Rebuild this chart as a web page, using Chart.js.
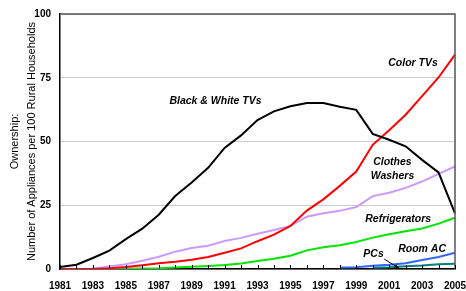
<!DOCTYPE html>
<html>
<head>
<meta charset="utf-8">
<script src="https://cdn.jsdelivr.net/npm/chart.js@4"></script>
<style>
  body { margin: 0; background: #fff; }
  canvas { display: block; }
</style>
</head>
<body>
<canvas id="chart" width="466" height="291"></canvas>
<script>
const years = ['1981','1982','1983','1984','1985','1986','1987','1988','1989','1990','1991','1992','1993',
  '1994','1995','1996','1997','1998','1999','2000','2001','2002','2003','2004','2005'];

const bwTVs = [0.8, 1.7, 4.3, 7.2, 11.7, 15.8, 21.3, 28.6, 33.9, 39.7, 47.5, 52.4, 58.4,
  61.8, 63.8, 65.1, 65.1, 63.6, 62.4, 53.0, 50.7, 48.1, 42.8, 37.9, 21.8];
const colorTVs = [0, 0, 0, 0.3, 0.8, 1.5, 2.3, 2.8, 3.6, 4.7, 6.4, 8.1, 10.9,
  13.5, 16.9, 22.9, 27.3, 32.6, 38.2, 48.7, 54.4, 60.5, 67.8, 75.1, 84.1];
const washers = [0, 0, 0.1, 1.0, 1.9, 3.2, 4.8, 6.8, 8.2, 9.1, 11.0, 12.2, 13.8,
  15.3, 16.9, 20.5, 21.9, 22.8, 24.3, 28.6, 29.9, 31.8, 34.3, 37.3, 40.2];
const fridges = [0, 0, 0, 0, 0.1, 0.2, 0.3, 0.6, 0.9, 1.2, 1.6, 2.2, 3.1,
  4.0, 5.2, 7.3, 8.5, 9.3, 10.6, 12.3, 13.6, 14.8, 15.9, 17.8, 20.1];
const roomAC = [null, null, null, null, null, null, null, null, null, null, null, null, null,
  null, null, null, null, 0.6, 0.7, 1.3, 1.7, 2.3, 3.5, 4.7, 6.4];
const pcs = [null, null, null, null, null, null, null, null, null, null, null, null, null,
  null, null, null, null, null, null, 0.5, 0.7, 1.1, 1.4, 1.9, 2.1];

const yTicks = [0, 25, 50, 75, 100];

// text labels placed in data units (index on the year axis, value)
const notes = [
  { text: 'Black & White TVs', x: 9.45, y: 66 },
  { text: 'Color TVs', x: 21.45, y: 80.7 },
  { text: 'Clothes', x: 20.2, y: 42.1 },
  { text: 'Washers', x: 20.2, y: 36.3 },
  { text: 'Refrigerators', x: 20.55, y: 19.7 },
  { text: 'Room AC', x: 22.0, y: 7.8 },
  { text: 'PCs', x: 19.05, y: 5.9 }
];
const pcArrow = { from: [19.7, 3.9], to: [20.6, 0.3] };

const FONT = 'Arial, "Liberation Sans", sans-serif';

const decor = {
  id: 'decor',
  afterDraw(chart) {
    const ctx = chart.ctx;
    const a = chart.chartArea;
    const xs = chart.scales.x, ys = chart.scales.y;
    ctx.save();
    // frame on top and right
    ctx.strokeStyle = '#555';
    ctx.lineWidth = 1.5;
    ctx.beginPath();
    ctx.moveTo(a.left, a.top);
    ctx.lineTo(a.right, a.top);
    ctx.lineTo(a.right, a.bottom);
    ctx.stroke();
    // inside tick marks on the year axis
    ctx.strokeStyle = '#000';
    ctx.lineWidth = 1;
    years.forEach((y, i) => {
      const px = Math.round(xs.getPixelForTick(i)) + 0.5;
      ctx.beginPath();
      ctx.moveTo(px, a.bottom);
      ctx.lineTo(px, a.bottom - 4);
      ctx.stroke();
    });
    // series labels
    ctx.fillStyle = '#000';
    ctx.font = 'italic bold 10.5px ' + FONT;
    ctx.textAlign = 'center';
    ctx.textBaseline = 'middle';
    notes.forEach(n => {
      ctx.fillText(n.text, xs.getPixelForValue(n.x), ys.getPixelForValue(n.y));
    });
    // arrow from PCs label to its line
    const x1 = xs.getPixelForValue(pcArrow.from[0]), y1 = ys.getPixelForValue(pcArrow.from[1]);
    const x2 = xs.getPixelForValue(pcArrow.to[0]), y2 = ys.getPixelForValue(pcArrow.to[1]);
    ctx.beginPath();
    ctx.moveTo(x1, y1);
    ctx.lineTo(x2, y2);
    ctx.stroke();
    const ang = Math.atan2(y2 - y1, x2 - x1);
    ctx.beginPath();
    ctx.moveTo(x2, y2);
    ctx.lineTo(x2 - 5 * Math.cos(ang - 0.4), y2 - 5 * Math.sin(ang - 0.4));
    ctx.lineTo(x2 - 5 * Math.cos(ang + 0.4), y2 - 5 * Math.sin(ang + 0.4));
    ctx.closePath();
    ctx.fill();
    ctx.restore();
  }
};

function line(data, color) {
  return {
    data: data,
    borderColor: color,
    borderWidth: 2,
    pointRadius: 0,
    tension: 0,
    fill: false
  };
}

new Chart(document.getElementById('chart'), {
  type: 'line',
  data: {
    labels: years,
    datasets: [
      line(bwTVs, '#000000'),
      line(colorTVs, '#ff0000'),
      line(washers, '#cc99ff'),
      line(fridges, '#00e600'),
      line(roomAC, '#3366ff'),
      line(pcs, '#008080')
    ]
  },
  options: {
    responsive: false,
    animation: false,
    layout: { padding: { left: 0, right: 11, top: 14, bottom: 0 } },
    plugins: { legend: { display: false }, tooltip: { enabled: false } },
    scales: {
      x: {
        offset: false,
        grid: { display: false },
        border: { color: '#000', width: 1.5 },
        ticks: {
          autoSkip: false,
          maxRotation: 0,
          padding: 3,
          color: '#000',
          font: { family: FONT, size: 10, weight: 'bold' },
          callback: (v, i) => (i % 2 === 0 ? years[i] : '')
        },
        afterFit: s => { s.height = 22; s.paddingLeft = 0; s.paddingRight = 0; }
      },
      y: {
        min: 0,
        max: 100,
        grid: { color: '#cccccc', drawTicks: false },
        border: { color: '#000', width: 1.5 },
        afterBuildTicks: s => { s.ticks = yTicks.map(v => ({ value: v })); },
        ticks: {
          padding: 9,
          color: '#000',
          font: { family: FONT, size: 10, weight: 'bold' }
        },
        title: {
          display: true,
          text: ['Ownership:', 'Number of Appliances per 100 Rural Households'],
          color: '#000',
          font: { family: FONT, size: 11, lineHeight: 1.55 },
          padding: { top: 6, bottom: 0 }
        },
        afterFit: s => { s.width = 60; s.paddingTop = 0; s.paddingBottom = 0; }
      }
    }
  },
  plugins: [decor]
});
</script>
</body>
</html>
